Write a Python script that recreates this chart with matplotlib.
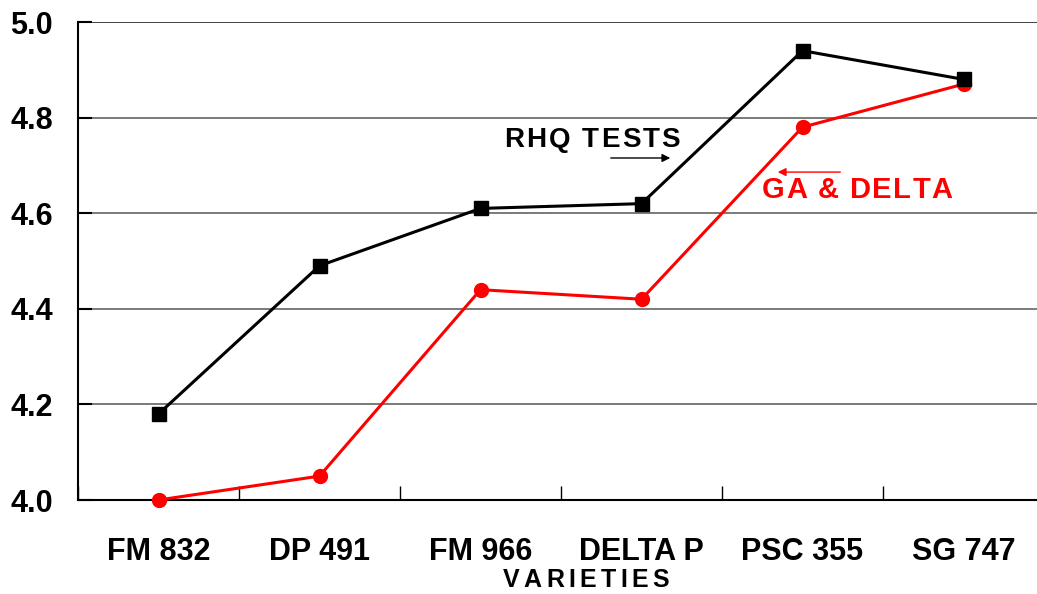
import numpy as np
import matplotlib
matplotlib.use("Agg")
from matplotlib import pyplot as plt
from matplotlib import font_manager
from matplotlib.transforms import offset_copy

plt.rcParams['font.family'] = ['Liberation Sans', 'DejaVu Sans']
plt.rcParams['font.weight'] = 'bold'

varieties = ['FM 832', 'DP 491', 'FM 966', 'DELTA P', 'PSC 355', 'SG 747']
rhq_tests = [4.18, 4.49, 4.61, 4.62, 4.94, 4.88]
ga_delta = [4.00, 4.05, 4.44, 4.42, 4.78, 4.87]
y_ticks = [4.0, 4.2, 4.4, 4.6, 4.8, 5.0]


def spaced_text(fig, x, y, s, transform, size, tracking, ha='left', color='black'):
    # draw text letter by letter so the letters can be spread apart
    fp = font_manager.FontProperties(family='Liberation Sans', weight='bold', size=size)
    font = font_manager.get_font(font_manager.findfont(fp))
    font.set_size(size, 72)
    adv = [font.load_char(ord(c)).linearHoriAdvance / 65536 for c in s]
    total = sum(adv) + tracking * (len(s) - 1)
    start = {'left': 0, 'center': -total / 2, 'right': -total}[ha]
    pos = start
    for c, a in zip(s, adv):
        tr = offset_copy(transform, fig=fig, x=pos, y=0, units='points')
        fig.text(x, y, c, transform=tr, fontproperties=fp, color=color,
                 ha='left', va='center')
        pos += a + tracking


fig = plt.figure(figsize=(10.37, 5.94), dpi=100)
ax = fig.add_axes([78 / 1037, 94 / 594, 966 / 1037, 478 / 594])
x = np.arange(len(varieties))

ax.plot(x, rhq_tests, color='black', lw=2.2, marker='s', ms=10, clip_on=False, zorder=4)
ax.plot(x, ga_delta, color='#ff0000', lw=2.2, marker='o', ms=10, clip_on=False, zorder=3)

ax.set_xlim(-0.5, len(varieties) - 0.5)
ax.set_ylim(4.0, 5.0)
ax.set_yticks(y_ticks)
ax.set_yticklabels([f'{v:.1f}' for v in y_ticks], fontsize=22, fontweight='bold')
ax.set_xticks(x)
ax.set_xticklabels(varieties, fontsize=22, fontweight='bold')
ax.set_xticks(np.arange(len(varieties) + 1) - 0.5, minor=True)
ax.tick_params(axis='x', which='major', length=0, pad=27)
ax.tick_params(axis='x', which='minor', direction='in', length=10, width=1)
ax.tick_params(axis='y', direction='in', length=10, width=1.5, pad=18)

for v in y_ticks[1:]:
    ax.axhline(v, color='#707070' if v < 5.0 else '#333333', lw=1.3, zorder=1)

for side in ['top', 'right']:
    ax.spines[side].set_visible(False)
ax.spines['left'].set_linewidth(1.5)
ax.spines['bottom'].set_linewidth(1.5)

spaced_text(fig, 586 / 1037, 1 - 580 / 594, 'VARIETIES', fig.transFigure, 18, 3.1,
            ha='center')
spaced_text(fig, 3.239, 4.753, 'RHQ TESTS', ax.transData, 20, 1.5, ha='right')
spaced_text(fig, 3.748, 4.6485, 'GA & DELTA', ax.transData, 21, 1.0, ha='left',
            color='#ff0000')

ax.annotate('', xy=(3.196, 4.7155), xytext=(2.792, 4.7155),
            arrowprops=dict(arrowstyle='-|>', color='black', lw=1, mutation_scale=12))
ax.annotate('', xy=(3.829, 4.686), xytext=(4.252, 4.686),
            arrowprops=dict(arrowstyle='-|>', color='#ff0000', lw=1, mutation_scale=12))

fig.savefig('out.png', dpi=100)
